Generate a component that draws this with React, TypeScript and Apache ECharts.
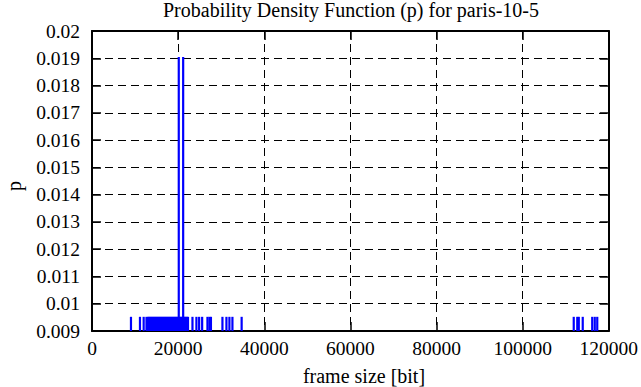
import React, { useEffect, useRef } from "react";
import * as echarts from "echarts";

const titleText = "Probability Density Function (p) for paris-10-5";
const xAxisName = "frame size [bit]";
const yAxisName = "p";

// frame sizes [bit] and their probability
const frameSizes = [
  9050, 11140, 12000, 12650, 13000, 13230, 13460, 13700, 13930, 14160, 14390,
  14620, 14860, 15090, 15320, 15550, 15790, 16020, 16250, 16480, 16720, 16950,
  17180, 17410, 17640, 17870, 18110, 18340, 18570, 18800, 19040, 19270, 19500,
  19730, 19960, 20150, 20430, 20660, 20890, 21170, 21360, 21590, 21820, 22050,
  22290, 23330, 24250, 24880, 25580, 26810, 27270, 27620, 30290, 31220, 31910,
  32610, 34750, 111870, 112690, 113040, 113960, 116160, 116750, 117330,
];
const probabilities = [
  0.00952, 0.00952, 0.00952, 0.00952, 0.00952, 0.00952, 0.00952, 0.00952,
  0.00952, 0.00952, 0.00952, 0.00952, 0.00952, 0.00952, 0.00952, 0.00952,
  0.00952, 0.00952, 0.00952, 0.00952, 0.00952, 0.00952, 0.00952, 0.00952,
  0.00952, 0.00952, 0.00952, 0.00952, 0.00952, 0.00952, 0.00952, 0.00952,
  0.00952, 0.00952, 0.00952, 0.01905, 0.00952, 0.00952, 0.00952, 0.01905,
  0.00952, 0.00952, 0.00952, 0.00952, 0.00952, 0.00952, 0.00952, 0.00952,
  0.00952, 0.00952, 0.00952, 0.00952, 0.00952, 0.00952, 0.00952, 0.00952,
  0.00952, 0.00952, 0.00952, 0.00952, 0.00952, 0.00952, 0.00952, 0.00952,
];

const xMin = 0;
const xMax = 120000;
const xStep = 20000;
const yMin = 0.009;
const yMax = 0.02;
const yStep = 0.001;

const FONT = "Liberation Serif";
const FS = 19.5;

export default function App() {
  const ref = useRef<HTMLDivElement>(null);
  useEffect(() => {
    if (!ref.current) return;
    const chart = echarts.init(ref.current, undefined, { renderer: "svg" });
    const data = frameSizes.map((x, i) => [x, probabilities[i]]);
    const axisLine = { show: true, onZero: false, lineStyle: { color: "#000", width: 2 } };
    const axisTick = { show: true, inside: true, length: 9, lineStyle: { color: "#000", width: 1.5 } };
    const split = { show: true, lineStyle: { color: "#000", width: 1, type: [8, 5] as any } };
    chart.setOption({
      animation: false,
      backgroundColor: "#fff",
      textStyle: { fontFamily: FONT },
      grid: { left: 92, top: 31, width: 517, height: 300, containLabel: false },
      xAxis: [
        {
          type: "value", min: xMin, max: xMax, interval: xStep, position: "bottom",
          axisLine, axisTick, splitLine: split,
          axisLabel: {
            color: "#000", fontFamily: FONT, fontSize: FS, margin: 7, showMaxLabel: true, showMinLabel: true,
            formatter: (v: number) => String(Math.round(v)),
          },
        },
        {
          type: "value", min: xMin, max: xMax, interval: xStep, position: "top",
          axisLine, axisTick, splitLine: { show: false }, axisLabel: { show: false },
        },
      ],
      yAxis: [
        {
          type: "value", min: yMin, max: yMax, interval: yStep, position: "left",
          axisLine, axisTick, splitLine: split,
          axisLabel: {
            color: "#000", fontFamily: FONT, fontSize: FS, margin: 12,
            formatter: (v: number) => String(parseFloat(v.toFixed(3))),
          },
        },
        {
          type: "value", min: yMin, max: yMax, interval: yStep, position: "right",
          axisLine, axisTick, splitLine: { show: false }, axisLabel: { show: false },
        },
      ],
      graphic: [
        {
          type: "text", x: 351, y: 10,
          style: { text: titleText, fontFamily: FONT, fontSize: 20, fill: "#000", textAlign: "center", textVerticalAlign: "middle" },
        },
        {
          type: "text", x: 364, y: 376,
          style: { text: xAxisName, fontFamily: FONT, fontSize: 20, fill: "#000", textAlign: "center", textVerticalAlign: "middle" },
        },
        {
          type: "text", x: 14, y: 186, rotation: Math.PI / 2,
          style: { text: yAxisName, fontFamily: FONT, fontSize: 20, fill: "#000", textAlign: "center", textVerticalAlign: "middle" },
        },
      ],
      series: [
        {
          type: "custom",
          xAxisIndex: 0,
          yAxisIndex: 0,
          data,
          encode: { x: 0, y: 1 },
          renderItem: (params: any, api: any) => {
            const x = api.value(0);
            const p0 = api.coord([x, yMin]);
            const p1 = api.coord([x, api.value(1)]);
            return {
              type: "rect",
              shape: { x: p1[0] - 1.1, y: p1[1], width: 2.2, height: p0[1] - p1[1] },
              style: { fill: "#0000ff" },
            };
          },
        },
      ],
    });
    return () => chart.dispose();
  }, []);
  return <div ref={ref} style={{ position: "fixed", left: 0, top: 0, width: 641, height: 387 }} />;
}
